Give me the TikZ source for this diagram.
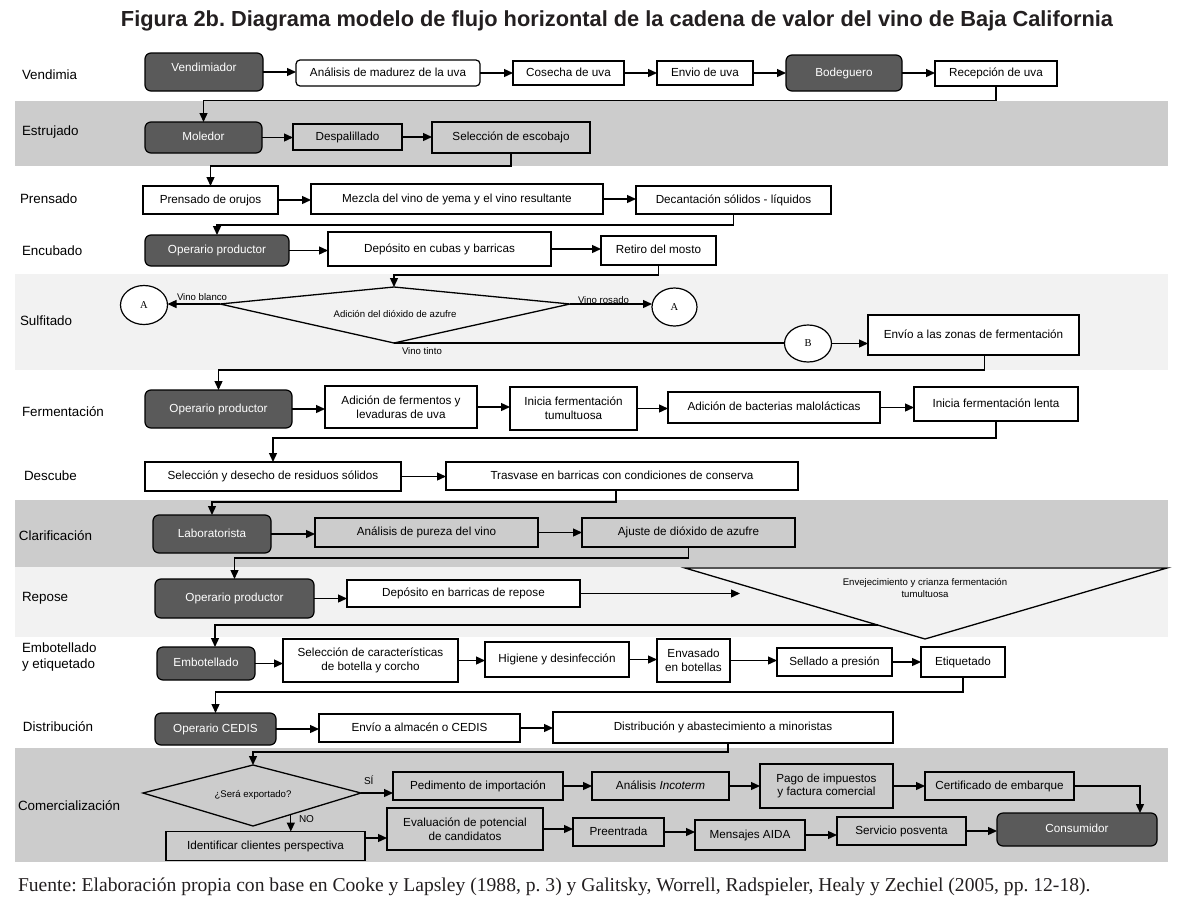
\documentclass[tikz,border=0pt]{standalone}
\usepackage{fontspec}
\setmainfont{Liberation Sans}
\newfontfamily\tnr{Liberation Serif}
\usetikzlibrary{arrows.meta,shapes.geometric,calc}
\definecolor{bandgray}{HTML}{CCCCCC}
\definecolor{bandlight}{HTML}{F2F2F2}
\definecolor{darkbox}{HTML}{5A5A5A}
\definecolor{titlecol}{HTML}{231F20}
\frenchspacing
\newcommand\hto[2]{\draw[arr] (#1.east) -- (#1.east -| #2.west);}
\begin{document}
\begin{tikzpicture}[x=1pt,y=-1pt,
  every node/.style={inner sep=0pt, outer sep=0pt},
  box/.style={draw=black, line width=1.2pt, fill=white, font=\fontsize{11.7}{13.6}\selectfont, text height=8.4pt, text depth=2.4pt},
  mbox/.style={box, align=center, text height=, text depth=},
  gbox/.style={box, fill=none},
  gmbox/.style={mbox, fill=none},
  dbox/.style={box, fill=darkbox, text=white, rounded corners=6pt},
  lbl/.style={anchor=west, align=left, font=\fontsize{13.4}{16}\selectfont},
  sm/.style={font=\fontsize{9.6}{11.5}\selectfont},
  circ/.style={draw, ellipse, line width=1.2pt, fill=white, font=\tnr\fontsize{10.5}{12}\selectfont},
  arr/.style={line width=1.3pt, -{Triangle[length=9pt,width=8pt]}},
  ln/.style={line width=1.3pt},
]
\useasboundingbox (0,0) rectangle (1200,916);
\fill[white] (0,0) rectangle (1200,916);
% bands
\fill[bandgray] (15,101) rectangle (1168,166);
\fill[bandlight] (15,274) rectangle (1168,370);
\fill[bandgray] (15,500) rectangle (1168,567);
\fill[bandlight] (15,567) rectangle (1168,637);
\fill[bandgray] (15,748) rectangle (1168,862);

% title and footer
\node[font=\bfseries\fontsize{21.8}{25}\selectfont, text=titlecol] (title) at (617,21) {Figura 2b. Diagrama modelo de flujo horizontal de la cadena de valor del vino de Baja California};
\node[anchor=west, font=\tnr\fontsize{19.6}{22}\selectfont, text=titlecol] (foot) at (18,887) {Fuente: Elaboración propia con base en Cooke y Lapsley (1988, p. 3) y Galitsky, Worrell, Radspieler, Healy y Zechiel (2005, pp. 12-18).};

% row labels
\node[lbl] (l1) at (22,75) {Vendimia};
\node[lbl] (l2) at (22,132) {Estrujado};
\node[lbl] (l3) at (20,199) {Prensado};
\node[lbl] (l4) at (22,251) {Encubado};
\node[lbl] (l5) at (20,321) {Sulfitado};
\node[lbl] (l6) at (22,412) {Fermentación};
\node[lbl] (l7) at (24,476) {Descube};
\node[lbl] (l8) at (19,536) {Clarificación};
\node[lbl] (l9) at (22,598) {Repose};
\node[lbl] (l10) at (22,657) {Embotellado\\y etiquetado};
\node[lbl] (l11) at (23,727) {Distribución};
\node[lbl] (l12) at (18,806) {Comercialización};

% Row 1 Vendimia
\node[dbox, text depth=9pt, minimum width=118pt, minimum height=38pt] (vend) at (204,72) {Vendimiador};
\node[box, rounded corners=4pt, minimum width=184pt, minimum height=26pt] (anal) at (388,73) {Análisis de madurez de la uva};
\node[box, minimum width=111pt, minimum height=24pt] (cose) at (568.5,73) {Cosecha de uva};
\node[box, minimum width=96pt, minimum height=24pt] (envi) at (705,73) {Envio de uva};
\node[dbox, minimum width=116pt, minimum height=36pt] (bode) at (844,73) {Bodeguero};
\node[box, minimum width=122pt, minimum height=25pt] (rece) at (996,73.5) {Recepción de uva};
\hto{vend}{anal}\hto{anal}{cose}\hto{cose}{envi}\hto{envi}{bode}\hto{bode}{rece}

% Row 2 Estrujado
\node[dbox, minimum width=117pt, minimum height=31pt] (mole) at (203.5,137.5) {Moledor};
\node[gbox, minimum width=109pt, minimum height=26pt] (desp) at (347.5,137) {Despalillado};
\node[gbox, minimum width=158pt, minimum height=31pt] (sele) at (511,137.5) {Selección de escobajo};
\hto{mole}{desp}\hto{desp}{sele}
\draw[arr] (rece.south) -- ++(0,14.5) -| (mole.north);

% Row 3 Prensado
\node[box, minimum width=135pt, minimum height=28pt] (pren) at (210.5,200) {Prensado de orujos};
\node[box, minimum width=292pt, minimum height=30pt] (mezc) at (457,199) {Mezcla del vino de yema y el vino resultante};
\node[box, minimum width=195pt, minimum height=28pt] (deca) at (733.5,200) {Decantación sólidos - líquidos};
\hto{pren}{mezc}\hto{mezc}{deca}
\draw[arr] (sele.south) -- ++(0,13) -| (pren.north);

% Row 4 Encubado
\node[dbox, minimum width=144pt, minimum height=31pt] (oper1) at (217,250.5) {Operario productor};
\node[box, minimum width=223pt, minimum height=34pt] (depo) at (439.5,249) {Depósito en cubas y barricas};
\node[box, minimum width=115pt, minimum height=29pt] (reti) at (658.5,250.5) {Retiro del mosto};
\hto{oper1}{depo}\hto{depo}{reti}
\draw[arr] (deca.south) -- ++(0,11) -| (oper1.north);

% Row 5 Sulfitado
\coordinate (dT) at (394,287);
\coordinate (dL) at (220,304);
\coordinate (dR) at (570,304);
\coordinate (dB) at (394,343);
\draw[ln, fill=bandlight] (dT) -- (dR) -- (dB) -- (dL) -- cycle;
\node[sm] (adic) at (395,314) {Adición del dióxido de azufre};
\node[circ, minimum width=47pt, minimum height=39pt] (cA1) at (144,305) {A};
\node[circ, minimum width=45pt, minimum height=38pt] (cA2) at (674.5,307) {A};
\node[circ, minimum width=47pt, minimum height=37pt] (cB) at (808,343.5) {B};
\node[box, minimum width=211pt, minimum height=40pt] (envz) at (973.5,335) {Envío a las zonas de fermentación};
\draw[arr] (dL) -- (dL -| cA1.east);
\draw[arr] (dR) -- (dR -| cA2.west);
\draw[ln] (dB) -- (dB -| cB.west);
\draw[arr] (cB.east) -- (cB.east -| envz.west);
\node[sm, anchor=west] (vb) at (177,297) {Vino blanco};
\node[sm, anchor=west] (vr) at (578,300) {Vino rosado};
\node[sm, anchor=west] (vt) at (402,351) {Vino tinto};
\draw[arr] (reti.south) -- ++(0,10) -| (dT);

% Row 6 Fermentacion
\node[dbox, minimum width=147pt, minimum height=38pt] (oper2) at (218.5,409) {Operario productor};
\node[mbox, minimum width=152pt, minimum height=42pt] (afer) at (401,407) {Adición de fermentos y\\levaduras de uva};
\node[mbox, minimum width=127pt, minimum height=43pt] (itum) at (573.5,408.5) {Inicia fermentación\\tumultuosa};
\node[box, minimum width=212pt, minimum height=31pt] (bact) at (774,407.5) {Adición de bacterias malolácticas};
\node[box, minimum width=164pt, minimum height=34pt] (ilen) at (996,404) {Inicia fermentación lenta};
\hto{oper2}{afer}\hto{afer}{itum}\hto{itum}{bact}\hto{bact}{ilen}
\draw[arr] ([xshift=11pt]envz.south) -- ++(0,15) -| (oper2.north);

% Row 7 Descube
\node[box, minimum width=256pt, minimum height=29pt] (sdes) at (273,476.5) {Selección y desecho de residuos sólidos};
\node[box, minimum width=352pt, minimum height=28pt] (tras) at (622,476) {Trasvase en barricas con condiciones de conserva};
\hto{sdes}{tras}
\draw[arr] (ilen.south) -- ++(0,17) -| (sdes.north);

% Row 8 Clarificacion
\node[dbox, minimum width=118pt, minimum height=38pt] (labo) at (212,534) {Laboratorista};
\node[gbox, minimum width=223pt, minimum height=29pt] (apur) at (426.5,532.5) {Análisis de pureza del vino};
\node[gbox, minimum width=213pt, minimum height=29pt] (ajus) at (688.5,532.5) {Ajuste de dióxido de azufre};
\hto{labo}{apur}\hto{apur}{ajus}
\draw[arr] ([xshift=-6pt]tras.south) -- ++(0,12) -| (labo.north);

% Row 9 Repose
\draw[ln, fill=bandlight] (685,568) coordinate (tA) -- (1167,568) coordinate (tB) -- (925,639) coordinate (tC) -- cycle;
\node[sm, align=center] (trit) at (925,588) {Envejecimiento y crianza fermentación\\tumultuosa};
\coordinate (tri625) at ($(tA)!0.803!(tC)$);
\coordinate (repend) at (740,593.5);
\node[dbox, minimum width=159pt, minimum height=39pt] (oper3) at (234.5,598.5) {Operario productor};
\node[box, minimum width=233pt, minimum height=27pt] (dbar) at (463.5,593.5) {Depósito en barricas de repose};
\hto{oper3}{dbar}
\draw[arr] (dbar.east) -- (dbar.east -| repend);
\draw[arr] (ajus.south) -- ++(0,11) -| (oper3.north);

% Row 10 Embotellado
\node[dbox, minimum width=98pt, minimum height=33pt] (embo) at (206,663.5) {Embotellado};
\node[mbox, minimum width=175pt, minimum height=43pt] (scar) at (370.5,660.5) {Selección de características\\de botella y corcho};
\node[box, minimum width=144pt, minimum height=35pt] (higi) at (557,659.5) {Higiene y desinfección};
\node[mbox, minimum width=73pt, minimum height=43pt] (enva) at (693.5,660.5) {Envasado\\en botellas};
\node[box, minimum width=115pt, minimum height=28pt] (sell) at (834.5,662) {Sellado a presión};
\node[box, minimum width=84pt, minimum height=30pt] (etiq) at (963,662) {Etiquetado};
\hto{embo}{scar}\hto{scar}{higi}\hto{higi}{enva}\hto{enva}{sell}\hto{sell}{etiq}
\draw[arr] (tri625) -| ([xshift=9pt]embo.north);

% Row 11 Distribucion
\node[dbox, minimum width=121pt, minimum height=32pt] (oced) at (215.5,729) {Operario CEDIS};
\node[box, minimum width=201pt, minimum height=28pt] (ealm) at (419.5,728) {Envío a almacén o CEDIS};
\node[box, minimum width=340pt, minimum height=31pt] (dist) at (723,727.5) {Distribución y abastecimiento a minoristas};
\hto{oced}{ealm}\hto{ealm}{dist}
\draw[arr] (etiq.south) -- ++(0,15) -| (oced.north);

% Row 12 Comercializacion
\coordinate (sT) at (253,765);
\coordinate (sL) at (143,793);
\coordinate (sR) at (361,793);
\coordinate (sB) at (253,826);
\draw[ln] (sT) -- (sR) -- (sB) -- (sL) -- cycle;
\node[font=\fontsize{9.6}{11}\selectfont] (sera) at (253,795) {¿Será exportado?};
\coordinate (noS) at ($(sB)!0.35!(sR)$);
\node[gbox, minimum width=170pt, minimum height=28pt] (pedi) at (478,786) {Pedimento de importación};
\node[gbox, minimum width=137pt, minimum height=28pt] (ainc) at (660.5,786) {Análisis \textit{Incoterm}};
\node[gmbox, minimum width=133pt, minimum height=44pt] (pago) at (826.5,786) {Pago de impuestos\\y factura comercial};
\node[gbox, minimum width=149pt, minimum height=28pt] (cert) at (999.5,786) {Certificado de embarque};
\node[dbox, minimum width=160pt, minimum height=33pt] (cons) at (1077,829.5) {Consumidor};
\node[gbox, minimum width=199pt, minimum height=29pt] (iden) at (265.5,846) {Identificar clientes perspectiva};
\node[gmbox, minimum width=156pt, minimum height=42pt] (eval) at (465,829) {Evaluación de potencial\\de candidatos};
\node[gbox, minimum width=91pt, minimum height=28pt] (pree) at (618.5,832) {Preentrada};
\node[gbox, minimum width=110pt, minimum height=30pt] (mens) at (750,835) {Mensajes AIDA};
\node[gbox, minimum width=129pt, minimum height=28pt] (serv) at (901.5,831) {Servicio posventa};
\draw[arr] (sR) -- (sR -| pedi.west);
\node[font=\fontsize{10}{11}\selectfont, anchor=west] (si) at (364,780) {SÍ};
\draw[arr] (noS) -- (noS |- iden.north);
\node[font=\fontsize{10}{11}\selectfont, anchor=west] (no) at (299,819) {NO};
\hto{pedi}{ainc}\hto{ainc}{pago}\hto{pago}{cert}
\draw[arr] (cert.east) -| ([xshift=63pt]cons.north);
\draw[arr] ([yshift=8pt]iden.east) -- ([yshift=8pt]iden.east -| eval.west);
\hto{eval}{pree}\hto{pree}{mens}\hto{mens}{serv}\hto{serv}{cons}
\draw[arr] ([xshift=5pt]dist.south) -- ++(0,9) -| (sT);
\end{tikzpicture}
\end{document}
